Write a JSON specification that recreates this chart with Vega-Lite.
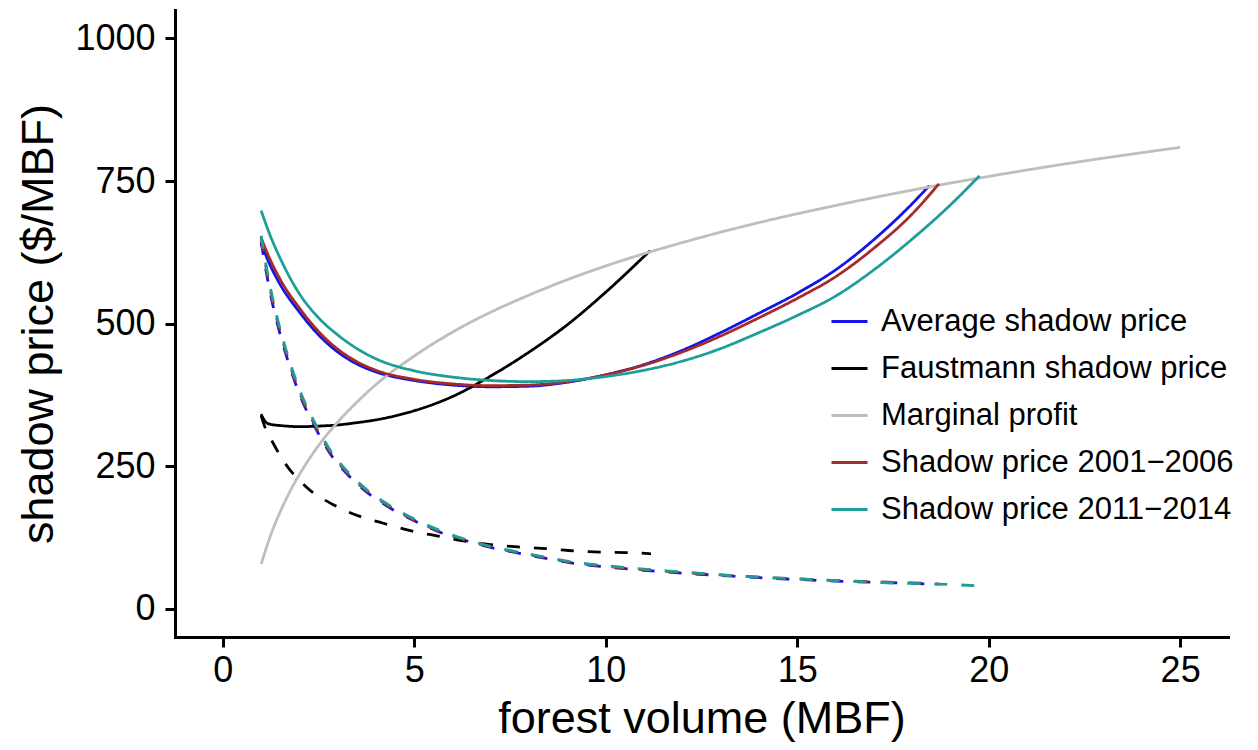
{
  "$schema": "https://vega.github.io/schema/vega-lite/v6.json",
  "width": 1053,
  "height": 627,
  "padding": {"left": 175, "top": 10, "right": 30, "bottom": 113},
  "autosize": {"type": "none"},
  "background": "white",
  "config": {"view": {"stroke": null}, "font": "Liberation Sans"},
  "data": {"values": [
    {"s": "Average shadow price", "t": "solid", "x": 1.0, "y": 640},
    {"s": "Average shadow price", "t": "solid", "x": 1.25, "y": 600},
    {"s": "Average shadow price", "t": "solid", "x": 1.5, "y": 568},
    {"s": "Average shadow price", "t": "solid", "x": 2.0, "y": 520},
    {"s": "Average shadow price", "t": "solid", "x": 2.5, "y": 480},
    {"s": "Average shadow price", "t": "solid", "x": 3.0, "y": 450},
    {"s": "Average shadow price", "t": "solid", "x": 3.5, "y": 429},
    {"s": "Average shadow price", "t": "solid", "x": 4.0, "y": 415},
    {"s": "Average shadow price", "t": "solid", "x": 5.0, "y": 400},
    {"s": "Average shadow price", "t": "solid", "x": 6.0, "y": 392},
    {"s": "Average shadow price", "t": "solid", "x": 7.0, "y": 389},
    {"s": "Average shadow price", "t": "solid", "x": 8.0, "y": 390},
    {"s": "Average shadow price", "t": "solid", "x": 9.0, "y": 397},
    {"s": "Average shadow price", "t": "solid", "x": 10.0, "y": 410},
    {"s": "Average shadow price", "t": "solid", "x": 11.0, "y": 428},
    {"s": "Average shadow price", "t": "solid", "x": 12.0, "y": 453},
    {"s": "Average shadow price", "t": "solid", "x": 13.0, "y": 484},
    {"s": "Average shadow price", "t": "solid", "x": 14.0, "y": 518},
    {"s": "Average shadow price", "t": "solid", "x": 15.0, "y": 553},
    {"s": "Average shadow price", "t": "solid", "x": 16.0, "y": 594},
    {"s": "Average shadow price", "t": "solid", "x": 17.0, "y": 647},
    {"s": "Average shadow price", "t": "solid", "x": 18.0, "y": 710},
    {"s": "Average shadow price", "t": "solid", "x": 18.45, "y": 742},

    {"s": "Average shadow price", "t": "dashed", "x": 1.0, "y": 643},
    {"s": "Average shadow price", "t": "dashed", "x": 1.15, "y": 584},
    {"s": "Average shadow price", "t": "dashed", "x": 1.3, "y": 534},
    {"s": "Average shadow price", "t": "dashed", "x": 1.5, "y": 480},
    {"s": "Average shadow price", "t": "dashed", "x": 1.75, "y": 424},
    {"s": "Average shadow price", "t": "dashed", "x": 2.0, "y": 376},
    {"s": "Average shadow price", "t": "dashed", "x": 2.4, "y": 319},
    {"s": "Average shadow price", "t": "dashed", "x": 2.8, "y": 272},
    {"s": "Average shadow price", "t": "dashed", "x": 3.3, "y": 232},
    {"s": "Average shadow price", "t": "dashed", "x": 3.8, "y": 202},
    {"s": "Average shadow price", "t": "dashed", "x": 4.4, "y": 175},
    {"s": "Average shadow price", "t": "dashed", "x": 5.0, "y": 154},
    {"s": "Average shadow price", "t": "dashed", "x": 5.7, "y": 133},
    {"s": "Average shadow price", "t": "dashed", "x": 6.4, "y": 118},
    {"s": "Average shadow price", "t": "dashed", "x": 7.0, "y": 107},
    {"s": "Average shadow price", "t": "dashed", "x": 7.8, "y": 96},
    {"s": "Average shadow price", "t": "dashed", "x": 8.5, "y": 87},
    {"s": "Average shadow price", "t": "dashed", "x": 9.2, "y": 79},
    {"s": "Average shadow price", "t": "dashed", "x": 10.0, "y": 73},
    {"s": "Average shadow price", "t": "dashed", "x": 11.0, "y": 67},
    {"s": "Average shadow price", "t": "dashed", "x": 12.0, "y": 62},
    {"s": "Average shadow price", "t": "dashed", "x": 13.0, "y": 58},
    {"s": "Average shadow price", "t": "dashed", "x": 14.0, "y": 54},
    {"s": "Average shadow price", "t": "dashed", "x": 15.0, "y": 51},
    {"s": "Average shadow price", "t": "dashed", "x": 16.0, "y": 48},
    {"s": "Average shadow price", "t": "dashed", "x": 17.0, "y": 46},
    {"s": "Average shadow price", "t": "dashed", "x": 18.0, "y": 44},
    {"s": "Average shadow price", "t": "dashed", "x": 18.45, "y": 43},

    {"s": "Faustmann shadow price", "t": "solid", "x": 1.0, "y": 341},
    {"s": "Faustmann shadow price", "t": "solid", "x": 1.05, "y": 334},
    {"s": "Faustmann shadow price", "t": "solid", "x": 1.12, "y": 327},
    {"s": "Faustmann shadow price", "t": "solid", "x": 1.25, "y": 323},
    {"s": "Faustmann shadow price", "t": "solid", "x": 1.5, "y": 321},
    {"s": "Faustmann shadow price", "t": "solid", "x": 2.0, "y": 319},
    {"s": "Faustmann shadow price", "t": "solid", "x": 2.5, "y": 320},
    {"s": "Faustmann shadow price", "t": "solid", "x": 3.0, "y": 322},
    {"s": "Faustmann shadow price", "t": "solid", "x": 3.5, "y": 326},
    {"s": "Faustmann shadow price", "t": "solid", "x": 4.0, "y": 331},
    {"s": "Faustmann shadow price", "t": "solid", "x": 5.0, "y": 347},
    {"s": "Faustmann shadow price", "t": "solid", "x": 6.0, "y": 372},
    {"s": "Faustmann shadow price", "t": "solid", "x": 7.0, "y": 408},
    {"s": "Faustmann shadow price", "t": "solid", "x": 8.0, "y": 450},
    {"s": "Faustmann shadow price", "t": "solid", "x": 9.0, "y": 498},
    {"s": "Faustmann shadow price", "t": "solid", "x": 10.0, "y": 555},
    {"s": "Faustmann shadow price", "t": "solid", "x": 11.16, "y": 628},

    {"s": "Faustmann shadow price", "t": "dashed", "x": 1.0, "y": 338},
    {"s": "Faustmann shadow price", "t": "dashed", "x": 1.1, "y": 318},
    {"s": "Faustmann shadow price", "t": "dashed", "x": 1.29, "y": 293},
    {"s": "Faustmann shadow price", "t": "dashed", "x": 1.5, "y": 268},
    {"s": "Faustmann shadow price", "t": "dashed", "x": 1.73, "y": 245},
    {"s": "Faustmann shadow price", "t": "dashed", "x": 2.0, "y": 225},
    {"s": "Faustmann shadow price", "t": "dashed", "x": 2.25, "y": 209},
    {"s": "Faustmann shadow price", "t": "dashed", "x": 2.86, "y": 183},
    {"s": "Faustmann shadow price", "t": "dashed", "x": 3.56, "y": 162},
    {"s": "Faustmann shadow price", "t": "dashed", "x": 4.17, "y": 150},
    {"s": "Faustmann shadow price", "t": "dashed", "x": 4.87, "y": 137},
    {"s": "Faustmann shadow price", "t": "dashed", "x": 5.62, "y": 127},
    {"s": "Faustmann shadow price", "t": "dashed", "x": 6.32, "y": 118},
    {"s": "Faustmann shadow price", "t": "dashed", "x": 7.0, "y": 112},
    {"s": "Faustmann shadow price", "t": "dashed", "x": 7.7, "y": 108},
    {"s": "Faustmann shadow price", "t": "dashed", "x": 8.46, "y": 105},
    {"s": "Faustmann shadow price", "t": "dashed", "x": 9.2, "y": 101},
    {"s": "Faustmann shadow price", "t": "dashed", "x": 9.9, "y": 99},
    {"s": "Faustmann shadow price", "t": "dashed", "x": 10.64, "y": 98},
    {"s": "Faustmann shadow price", "t": "dashed", "x": 11.18, "y": 96},

    {"s": "Marginal profit", "t": "solid", "x": 1.0, "y": 78},
    {"s": "Marginal profit", "t": "solid", "x": 1.25, "y": 129},
    {"s": "Marginal profit", "t": "solid", "x": 1.5, "y": 170},
    {"s": "Marginal profit", "t": "solid", "x": 1.75, "y": 205},
    {"s": "Marginal profit", "t": "solid", "x": 2.0, "y": 235},
    {"s": "Marginal profit", "t": "solid", "x": 2.5, "y": 286},
    {"s": "Marginal profit", "t": "solid", "x": 3.0, "y": 327},
    {"s": "Marginal profit", "t": "solid", "x": 3.5, "y": 362},
    {"s": "Marginal profit", "t": "solid", "x": 4.0, "y": 393},
    {"s": "Marginal profit", "t": "solid", "x": 5.0, "y": 443},
    {"s": "Marginal profit", "t": "solid", "x": 6.0, "y": 485},
    {"s": "Marginal profit", "t": "solid", "x": 7.0, "y": 520},
    {"s": "Marginal profit", "t": "solid", "x": 8.0, "y": 550},
    {"s": "Marginal profit", "t": "solid", "x": 9.0, "y": 577},
    {"s": "Marginal profit", "t": "solid", "x": 10.0, "y": 601},
    {"s": "Marginal profit", "t": "solid", "x": 12.0, "y": 642},
    {"s": "Marginal profit", "t": "solid", "x": 14.0, "y": 677},
    {"s": "Marginal profit", "t": "solid", "x": 16.0, "y": 707},
    {"s": "Marginal profit", "t": "solid", "x": 18.0, "y": 734},
    {"s": "Marginal profit", "t": "solid", "x": 20.0, "y": 758},
    {"s": "Marginal profit", "t": "solid", "x": 22.0, "y": 780},
    {"s": "Marginal profit", "t": "solid", "x": 25.0, "y": 809},

    {"s": "Shadow price 2001−2006", "t": "solid", "x": 1.0, "y": 650},
    {"s": "Shadow price 2001−2006", "t": "solid", "x": 1.25, "y": 610},
    {"s": "Shadow price 2001−2006", "t": "solid", "x": 1.5, "y": 577},
    {"s": "Shadow price 2001−2006", "t": "solid", "x": 2.0, "y": 527},
    {"s": "Shadow price 2001−2006", "t": "solid", "x": 2.5, "y": 486},
    {"s": "Shadow price 2001−2006", "t": "solid", "x": 3.0, "y": 455},
    {"s": "Shadow price 2001−2006", "t": "solid", "x": 3.5, "y": 433},
    {"s": "Shadow price 2001−2006", "t": "solid", "x": 4.0, "y": 418},
    {"s": "Shadow price 2001−2006", "t": "solid", "x": 5.0, "y": 402},
    {"s": "Shadow price 2001−2006", "t": "solid", "x": 6.0, "y": 394},
    {"s": "Shadow price 2001−2006", "t": "solid", "x": 7.0, "y": 391},
    {"s": "Shadow price 2001−2006", "t": "solid", "x": 8.0, "y": 392},
    {"s": "Shadow price 2001−2006", "t": "solid", "x": 9.0, "y": 398},
    {"s": "Shadow price 2001−2006", "t": "solid", "x": 10.0, "y": 410},
    {"s": "Shadow price 2001−2006", "t": "solid", "x": 11.0, "y": 427},
    {"s": "Shadow price 2001−2006", "t": "solid", "x": 12.0, "y": 450},
    {"s": "Shadow price 2001−2006", "t": "solid", "x": 13.0, "y": 478},
    {"s": "Shadow price 2001−2006", "t": "solid", "x": 14.0, "y": 510},
    {"s": "Shadow price 2001−2006", "t": "solid", "x": 15.0, "y": 544},
    {"s": "Shadow price 2001−2006", "t": "solid", "x": 16.0, "y": 582},
    {"s": "Shadow price 2001−2006", "t": "solid", "x": 17.0, "y": 632},
    {"s": "Shadow price 2001−2006", "t": "solid", "x": 18.0, "y": 692},
    {"s": "Shadow price 2001−2006", "t": "solid", "x": 18.7, "y": 745},

    {"s": "Shadow price 2001−2006", "t": "dashed", "x": 1.0, "y": 650},
    {"s": "Shadow price 2001−2006", "t": "dashed", "x": 1.15, "y": 590},
    {"s": "Shadow price 2001−2006", "t": "dashed", "x": 1.3, "y": 540},
    {"s": "Shadow price 2001−2006", "t": "dashed", "x": 1.5, "y": 485},
    {"s": "Shadow price 2001−2006", "t": "dashed", "x": 1.75, "y": 428},
    {"s": "Shadow price 2001−2006", "t": "dashed", "x": 2.0, "y": 380},
    {"s": "Shadow price 2001−2006", "t": "dashed", "x": 2.4, "y": 322},
    {"s": "Shadow price 2001−2006", "t": "dashed", "x": 2.8, "y": 275},
    {"s": "Shadow price 2001−2006", "t": "dashed", "x": 3.3, "y": 234},
    {"s": "Shadow price 2001−2006", "t": "dashed", "x": 3.8, "y": 204},
    {"s": "Shadow price 2001−2006", "t": "dashed", "x": 4.4, "y": 177},
    {"s": "Shadow price 2001−2006", "t": "dashed", "x": 5.0, "y": 155},
    {"s": "Shadow price 2001−2006", "t": "dashed", "x": 5.7, "y": 134},
    {"s": "Shadow price 2001−2006", "t": "dashed", "x": 6.4, "y": 119},
    {"s": "Shadow price 2001−2006", "t": "dashed", "x": 7.0, "y": 108},
    {"s": "Shadow price 2001−2006", "t": "dashed", "x": 7.8, "y": 97},
    {"s": "Shadow price 2001−2006", "t": "dashed", "x": 8.5, "y": 88},
    {"s": "Shadow price 2001−2006", "t": "dashed", "x": 9.2, "y": 80},
    {"s": "Shadow price 2001−2006", "t": "dashed", "x": 10.0, "y": 74},
    {"s": "Shadow price 2001−2006", "t": "dashed", "x": 11.0, "y": 68},
    {"s": "Shadow price 2001−2006", "t": "dashed", "x": 12.0, "y": 63},
    {"s": "Shadow price 2001−2006", "t": "dashed", "x": 13.0, "y": 59},
    {"s": "Shadow price 2001−2006", "t": "dashed", "x": 14.0, "y": 55},
    {"s": "Shadow price 2001−2006", "t": "dashed", "x": 15.0, "y": 52},
    {"s": "Shadow price 2001−2006", "t": "dashed", "x": 16.0, "y": 49},
    {"s": "Shadow price 2001−2006", "t": "dashed", "x": 17.0, "y": 47},
    {"s": "Shadow price 2001−2006", "t": "dashed", "x": 18.0, "y": 45},
    {"s": "Shadow price 2001−2006", "t": "dashed", "x": 18.7, "y": 43},

    {"s": "Shadow price 2011−2014", "t": "solid", "x": 1.0, "y": 698},
    {"s": "Shadow price 2011−2014", "t": "solid", "x": 1.25, "y": 652},
    {"s": "Shadow price 2011−2014", "t": "solid", "x": 1.5, "y": 614},
    {"s": "Shadow price 2011−2014", "t": "solid", "x": 2.0, "y": 552},
    {"s": "Shadow price 2011−2014", "t": "solid", "x": 2.5, "y": 510},
    {"s": "Shadow price 2011−2014", "t": "solid", "x": 3.0, "y": 480},
    {"s": "Shadow price 2011−2014", "t": "solid", "x": 3.5, "y": 456},
    {"s": "Shadow price 2011−2014", "t": "solid", "x": 4.0, "y": 438},
    {"s": "Shadow price 2011−2014", "t": "solid", "x": 5.0, "y": 417},
    {"s": "Shadow price 2011−2014", "t": "solid", "x": 6.0, "y": 406},
    {"s": "Shadow price 2011−2014", "t": "solid", "x": 7.0, "y": 400},
    {"s": "Shadow price 2011−2014", "t": "solid", "x": 8.0, "y": 398},
    {"s": "Shadow price 2011−2014", "t": "solid", "x": 9.0, "y": 400},
    {"s": "Shadow price 2011−2014", "t": "solid", "x": 10.0, "y": 407},
    {"s": "Shadow price 2011−2014", "t": "solid", "x": 11.0, "y": 418},
    {"s": "Shadow price 2011−2014", "t": "solid", "x": 12.0, "y": 434},
    {"s": "Shadow price 2011−2014", "t": "solid", "x": 13.0, "y": 456},
    {"s": "Shadow price 2011−2014", "t": "solid", "x": 14.0, "y": 484},
    {"s": "Shadow price 2011−2014", "t": "solid", "x": 15.0, "y": 514},
    {"s": "Shadow price 2011−2014", "t": "solid", "x": 16.0, "y": 548},
    {"s": "Shadow price 2011−2014", "t": "solid", "x": 17.0, "y": 594},
    {"s": "Shadow price 2011−2014", "t": "solid", "x": 18.0, "y": 648},
    {"s": "Shadow price 2011−2014", "t": "solid", "x": 19.0, "y": 708},
    {"s": "Shadow price 2011−2014", "t": "solid", "x": 19.76, "y": 759},

    {"s": "Shadow price 2011−2014", "t": "dashed", "x": 1.0, "y": 654},
    {"s": "Shadow price 2011−2014", "t": "dashed", "x": 1.15, "y": 594},
    {"s": "Shadow price 2011−2014", "t": "dashed", "x": 1.3, "y": 544},
    {"s": "Shadow price 2011−2014", "t": "dashed", "x": 1.5, "y": 489},
    {"s": "Shadow price 2011−2014", "t": "dashed", "x": 1.75, "y": 432},
    {"s": "Shadow price 2011−2014", "t": "dashed", "x": 2.0, "y": 384},
    {"s": "Shadow price 2011−2014", "t": "dashed", "x": 2.4, "y": 326},
    {"s": "Shadow price 2011−2014", "t": "dashed", "x": 2.8, "y": 278},
    {"s": "Shadow price 2011−2014", "t": "dashed", "x": 3.3, "y": 237},
    {"s": "Shadow price 2011−2014", "t": "dashed", "x": 3.8, "y": 206},
    {"s": "Shadow price 2011−2014", "t": "dashed", "x": 4.4, "y": 179},
    {"s": "Shadow price 2011−2014", "t": "dashed", "x": 5.0, "y": 157},
    {"s": "Shadow price 2011−2014", "t": "dashed", "x": 5.7, "y": 136},
    {"s": "Shadow price 2011−2014", "t": "dashed", "x": 6.4, "y": 120},
    {"s": "Shadow price 2011−2014", "t": "dashed", "x": 7.0, "y": 109},
    {"s": "Shadow price 2011−2014", "t": "dashed", "x": 7.8, "y": 98},
    {"s": "Shadow price 2011−2014", "t": "dashed", "x": 8.5, "y": 89},
    {"s": "Shadow price 2011−2014", "t": "dashed", "x": 9.2, "y": 81},
    {"s": "Shadow price 2011−2014", "t": "dashed", "x": 10.0, "y": 75},
    {"s": "Shadow price 2011−2014", "t": "dashed", "x": 11.0, "y": 69},
    {"s": "Shadow price 2011−2014", "t": "dashed", "x": 12.0, "y": 64},
    {"s": "Shadow price 2011−2014", "t": "dashed", "x": 13.0, "y": 59},
    {"s": "Shadow price 2011−2014", "t": "dashed", "x": 14.0, "y": 55},
    {"s": "Shadow price 2011−2014", "t": "dashed", "x": 15.0, "y": 52},
    {"s": "Shadow price 2011−2014", "t": "dashed", "x": 16.0, "y": 49},
    {"s": "Shadow price 2011−2014", "t": "dashed", "x": 17.0, "y": 46},
    {"s": "Shadow price 2011−2014", "t": "dashed", "x": 18.0, "y": 44},
    {"s": "Shadow price 2011−2014", "t": "dashed", "x": 19.0, "y": 42},
    {"s": "Shadow price 2011−2014", "t": "dashed", "x": 19.7, "y": 40}
  ]},
  "mark": {"type": "line", "strokeWidth": 2.8, "clip": true, "interpolate": "monotone"},
  "encoding": {
    "x": {
      "field": "x", "type": "quantitative",
      "scale": {"domain": [-1.25, 26.25], "nice": false, "zero": false},
      "axis": {
        "title": "forest volume (MBF)", "values": [0, 5, 10, 15, 20, 25], "grid": false,
        "domainColor": "black", "domainWidth": 3, "domainCap": "square",
        "tickColor": "black", "tickWidth": 3, "tickSize": 10,
        "labelFontSize": 36, "labelColor": "black", "labelPadding": 6, "labelFlush": false,
        "titleFontSize": 45, "titleFontWeight": "normal", "titleColor": "black", "titlePadding": 8
      }
    },
    "y": {
      "field": "y", "type": "quantitative",
      "scale": {"domain": [-50, 1050], "nice": false, "zero": false},
      "axis": {
        "title": "shadow price ($/MBF)", "values": [0, 250, 500, 750, 1000], "format": "d", "grid": false,
        "domainColor": "black", "domainWidth": 3, "domainCap": "square",
        "tickColor": "black", "tickWidth": 3, "tickSize": 10,
        "labelFontSize": 36, "labelColor": "black", "labelPadding": 10, "labelFlush": false,
        "titleFontSize": 45, "titleFontWeight": "normal", "titleColor": "black", "titlePadding": 13
      }
    },
    "color": {
      "field": "s", "type": "nominal",
      "scale": {
        "domain": ["Average shadow price", "Faustmann shadow price", "Marginal profit", "Shadow price 2001−2006", "Shadow price 2011−2014"],
        "range": ["#1414E6", "#000000", "#BEBEBE", "#A52A2A", "#1E9E98"]
      },
      "legend": {
        "title": null, "orient": "none", "legendX": 655, "legendY": 292,
        "symbolType": "stroke", "symbolSize": 1296, "symbolStrokeWidth": 3,
        "labelFontSize": 31, "labelColor": "black", "labelOffset": 12, "labelLimit": 0,
        "rowPadding": 12, "padding": 0
      }
    },
    "strokeDash": {
      "field": "t", "type": "nominal",
      "scale": {"domain": ["solid", "dashed"], "range": [[1, 0], [13, 14]]},
      "legend": null
    }
  }
}
